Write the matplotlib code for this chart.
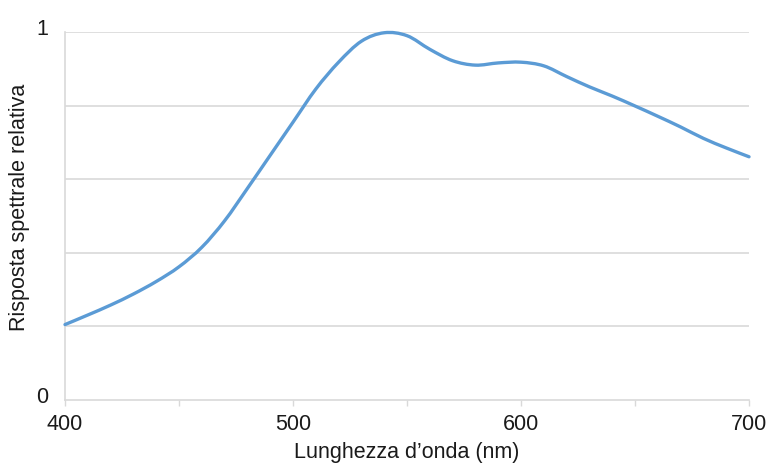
import numpy as np
import matplotlib
matplotlib.use("Agg")
import matplotlib.pyplot as plt
import matplotlib.transforms as mtransforms
from matplotlib.path import Path
from matplotlib.patches import PathPatch

# Relative spectral response vs wavelength
wavelength = [400, 410, 420, 430, 440, 450, 460, 470, 480, 490, 500,
              510, 520, 530, 540, 550, 560, 570, 580, 590, 600,
              610, 620, 630, 640, 650, 660, 670, 680, 690, 700]
response = [0.205, 0.231, 0.258, 0.288, 0.322, 0.362, 0.415, 0.487, 0.575, 0.665, 0.755,
            0.845, 0.918, 0.975, 0.998, 0.99, 0.953, 0.922, 0.91, 0.916, 0.918,
            0.908, 0.879, 0.851, 0.826, 0.799, 0.771, 0.742, 0.711, 0.685, 0.661]

x_ticks = [400, 500, 600, 700]
x_minor = [450, 550, 650]
y_ticks = [0, 1]
y_grid = [0.2, 0.4, 0.6, 0.8, 1.0]

plt.rcParams['font.family'] = ['Liberation Sans', 'DejaVu Sans']

fig = plt.figure(figsize=(7.71, 4.66), dpi=100)
ax = fig.add_axes([0.0843, 0.1416, 0.8872, 0.7897])

ax.set_xlim(400, 700)
ax.set_ylim(0, 1)


def smooth_path(xs, ys, tension=1.0 / 6.0):
    """Catmull-Rom style smoothed line built from cubic Bezier segments."""
    xs = np.asarray(xs, float)
    ys = np.asarray(ys, float)
    verts = [(xs[0], ys[0])]
    codes = [Path.MOVETO]
    n = len(xs)
    for i in range(n - 1):
        p0 = np.array([xs[max(i - 1, 0)], ys[max(i - 1, 0)]])
        p1 = np.array([xs[i], ys[i]])
        p2 = np.array([xs[i + 1], ys[i + 1]])
        p3 = np.array([xs[min(i + 2, n - 1)], ys[min(i + 2, n - 1)]])
        c1 = p1 + (p2 - p0) * tension
        c2 = p2 - (p3 - p1) * tension
        verts += [tuple(c1), tuple(c2), tuple(p2)]
        codes += [Path.CURVE4, Path.CURVE4, Path.CURVE4]
    return Path(verts, codes)


ax.add_patch(PathPatch(smooth_path(wavelength, response), facecolor='none',
                       edgecolor='#5B9BD5', lw=2.4, capstyle='round',
                       joinstyle='round', zorder=3, clip_on=False))

# Horizontal gridlines
for g in y_grid:
    ax.axhline(g, color='#D9D9D9', lw=1.2, zorder=1)

for side in ['top', 'right']:
    ax.spines[side].set_visible(False)
for side in ['left', 'bottom']:
    ax.spines[side].set_color('#D9D9D9')
    ax.spines[side].set_linewidth(1.2)

text_color = '#1a1a1a'
fs = 15.5

ax.set_xticks(x_ticks)
ax.set_xticks(x_minor, minor=True)
ax.set_xticklabels([str(t) for t in x_ticks])
ax.tick_params(axis='x', which='both', direction='out', length=4, width=1,
               color='#D9D9D9', labelsize=fs, pad=6, labelcolor=text_color)
ax.set_yticks(y_ticks)
ax.set_yticklabels(['0', '1'])
ax.tick_params(axis='y', length=0, labelsize=fs, pad=12, labelcolor=text_color)
lift = mtransforms.ScaledTranslation(0, 5 / 100, fig.dpi_scale_trans)
for lbl in ax.get_yticklabels():
    lbl.set_transform(lbl.get_transform() + lift)

ax.set_xlabel("Lunghezza d\u2019onda (nm)", fontsize=fs, color=text_color, labelpad=5)
ax.set_ylabel("Risposta spettrale relativa", fontsize=fs, color=text_color)
ax.yaxis.set_label_coords(-0.051, 0.523)

fig.savefig("out.png", dpi=100)
